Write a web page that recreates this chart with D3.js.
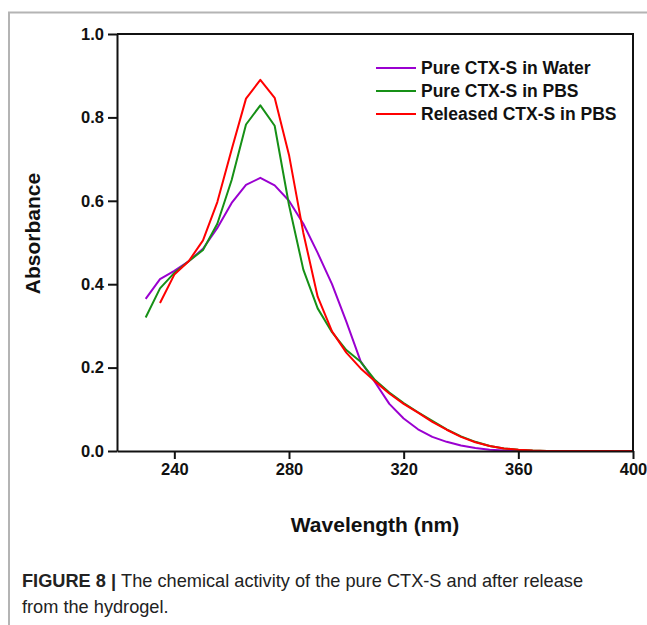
<!DOCTYPE html>
<html lang="en">
<head>
    <meta charset="UTF-8">
    <title>Figure 8 - CTX-S absorbance</title>
    <script src="https://d3js.org/d3.v7.min.js"></script>
    <style>
        body {
            margin: 0;
            background: #fff;
            font-family: 'Liberation Sans', Arial, sans-serif;
        }
    </style>
</head>
<body>
    <div id="chart"></div>

    <script>
        // Wavelength grid (nm)
        const wavelengths = [230, 235, 240, 245, 250, 255, 260, 265, 270, 275, 280, 285, 290, 295, 300,
            305, 310, 315, 320, 325, 330, 335, 340, 345, 350, 355, 360, 365, 370, 375, 380, 385, 390, 395, 400];

        // Absorbance values
        const waterValues = [0.365, 0.412, 0.432, 0.455, 0.485, 0.535, 0.595, 0.638, 0.655, 0.637, 0.600, 0.545, 0.475, 0.400, 0.310,
            0.215, 0.165, 0.113, 0.078, 0.052, 0.034, 0.022, 0.013, 0.007, 0.003, 0.001, 0, 0, 0, 0, 0, 0, 0, 0, 0];
        const pbsValues = [0.320, 0.390, 0.427, 0.455, 0.482, 0.545, 0.650, 0.783, 0.829, 0.780, 0.590, 0.435, 0.342, 0.285, 0.242,
            0.214, 0.170, 0.140, 0.115, 0.093, 0.072, 0.052, 0.035, 0.022, 0.012, 0.006, 0.003, 0.001, 0, 0, 0, 0, 0, 0, 0];
        const releasedValues = [null, 0.355, 0.423, 0.455, 0.505, 0.597, 0.723, 0.845, 0.890, 0.847, 0.710, 0.523, 0.370, 0.287, 0.236,
            0.198, 0.167, 0.138, 0.113, 0.092, 0.070, 0.051, 0.034, 0.021, 0.012, 0.006, 0.003, 0.001, 0, 0, 0, 0, 0, 0, 0];

        const seriesNames = ["Pure CTX-S in Water", "Pure CTX-S in PBS", "Released CTX-S in PBS"];
        const seriesColors = ["#9a00d0", "#169016", "#ff0000"];
        const seriesValues = [waterValues, pbsValues, releasedValues];

        const xTicks = [240, 280, 320, 360, 400];
        const yTicks = [0.0, 0.2, 0.4, 0.6, 0.8, 1.0];

        const width = 647;
        const height = 625;
        const margin = { top: 34, right: 14, bottom: 174, left: 117 };

        const svg = d3.select("#chart")
            .append("svg")
            .attr("width", width)
            .attr("height", height);

        // page frame (grey rule from the article layout)
        svg.append("path")
            .attr("d", "M9,625 V12.5 H647")
            .attr("fill", "none")
            .attr("stroke", "#b4b4b4")
            .attr("stroke-width", 2);

        const x = d3.scaleLinear()
            .domain([220, 400])
            .range([margin.left, width - margin.right]);

        const y = d3.scaleLinear()
            .domain([0, 1])
            .range([height - margin.bottom, margin.top]);

        // Lines
        const line = d3.line()
            .defined(d => d.v !== null)
            .x(d => x(d.w))
            .y(d => y(d.v));

        seriesValues.forEach((vals, i) => {
            const pts = wavelengths.map((w, j) => ({ w: w, v: vals[j] }));
            svg.append("path")
                .datum(pts)
                .attr("fill", "none")
                .attr("stroke", seriesColors[i])
                .attr("stroke-width", 2)
                .attr("stroke-linejoin", "round")
                .attr("d", line);
        });

        // Axes
        const xAxis = svg.append("g")
            .attr("transform", `translate(0,${y(0)})`)
            .call(d3.axisBottom(x).tickValues(xTicks).tickSize(8).tickPadding(4).tickSizeOuter(0));

        const yAxis = svg.append("g")
            .attr("transform", `translate(${x(220)},0)`)
            .call(d3.axisLeft(y).tickValues(yTicks).tickFormat(d3.format(".1f")).tickSize(9).tickPadding(4).tickSizeOuter(0));

        [xAxis, yAxis].forEach(g => {
            g.select(".domain").attr("stroke", "#111").attr("stroke-width", 2);
            g.selectAll(".tick line").attr("stroke", "#111").attr("stroke-width", 2);
            g.selectAll(".tick text")
                .attr("fill", "#111")
                .style("font-family", "'Liberation Sans', Arial, sans-serif")
                .style("font-size", "16.5px")
                .style("font-weight", "bold");
        });

        // top and right sides of the box
        svg.append("path")
            .attr("d", `M${x(220)},${y(1)} H${x(400)} V${y(0)}`)
            .attr("fill", "none")
            .attr("stroke", "#111")
            .attr("stroke-width", 2);

        // Axis titles
        svg.append("text")
            .attr("x", (x(220) + x(400)) / 2)
            .attr("y", 532)
            .attr("text-anchor", "middle")
            .style("font-size", "21px")
            .style("font-weight", "bold")
            .attr("fill", "#111")
            .text("Wavelength (nm)");

        svg.append("text")
            .attr("transform", `translate(40,${(y(0) + y(1)) / 2 - 9}) rotate(-90)`)
            .attr("text-anchor", "middle")
            .style("font-size", "21px")
            .style("font-weight", "bold")
            .attr("fill", "#111")
            .text("Absorbance");

        // Legend
        const legend = svg.append("g").attr("transform", "translate(376,68)");
        seriesNames.forEach((name, i) => {
            const row = legend.append("g").attr("transform", `translate(0,${i * 23})`);
            row.append("line")
                .attr("x1", 0).attr("x2", 40)
                .attr("stroke", seriesColors[i])
                .attr("stroke-width", 2);
            row.append("text")
                .attr("x", 45)
                .attr("dy", "0.35em")
                .style("font-size", "17.5px")
                .style("font-weight", "bold")
                .attr("fill", "#111")
                .text(name);
        });

        // Caption
        const caption = svg.append("text")
            .attr("x", 22)
            .attr("y", 587)
            .style("font-size", "18.2px")
            .attr("fill", "#222");
        caption.append("tspan").style("font-weight", "bold").text("FIGURE 8 | ");
        caption.append("tspan").text("The chemical activity of the pure CTX-S and after release");
        svg.append("text")
            .attr("x", 22)
            .attr("y", 613)
            .style("font-size", "18.2px")
            .attr("fill", "#222")
            .text("from the hydrogel.");
    </script>
</body>
</html>
